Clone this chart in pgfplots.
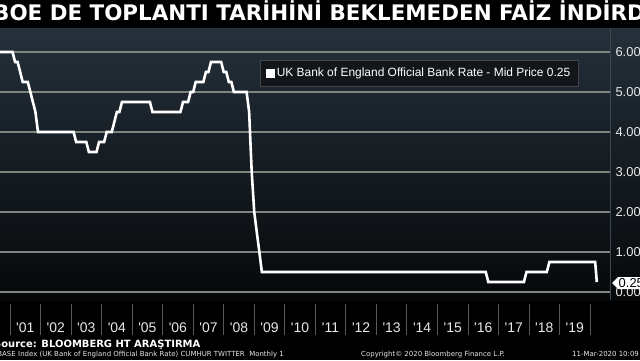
\documentclass[border=0pt]{standalone}
\usepackage{pgfplots}
\pgfplotsset{compat=1.18}
\usepackage{fontspec}
\setmainfont{Liberation Sans}
\newfontfamily\tickfont{Liberation Sans}
\newfontfamily\djv{DejaVu Sans}
\definecolor{bgtop}{RGB}{36,48,58}
\definecolor{bgbot}{RGB}{6,8,10}
\definecolor{gridc}{RGB}{128,133,130}
\definecolor{sepc}{RGB}{85,90,92}
\definecolor{legfill}{RGB}{18,22,26}
\definecolor{legdraw}{RGB}{62,68,74}
\definecolor{tickc}{RGB}{232,232,232}
\definecolor{axc}{RGB}{62,72,80}
\pgfplotstableread{
x y
2000.50 6.00
2001.083 6.00
2001.167 5.75
2001.250 5.75
2001.333 5.50
2001.417 5.25
2001.583 5.25
2001.667 5.00
2001.750 4.75
2001.833 4.50
2001.917 4.00
2003.083 4.00
2003.167 3.75
2003.500 3.75
2003.583 3.50
2003.833 3.50
2003.917 3.75
2004.083 3.75
2004.167 4.00
2004.333 4.00
2004.417 4.25
2004.500 4.50
2004.583 4.50
2004.667 4.75
2005.583 4.75
2005.667 4.50
2006.583 4.50
2006.667 4.75
2006.833 4.75
2006.917 5.00
2007.000 5.00
2007.083 5.25
2007.333 5.25
2007.417 5.50
2007.500 5.50
2007.583 5.75
2007.917 5.75
2008.000 5.50
2008.083 5.50
2008.167 5.25
2008.250 5.25
2008.333 5.00
2008.750 5.00
2008.833 4.50
2008.917 3.00
2009.000 2.00
2009.083 1.50
2009.167 1.00
2009.250 0.50
2016.583 0.50
2016.667 0.25
2017.833 0.25
2017.917 0.50
2018.583 0.50
2018.667 0.75
2020.167 0.75
2020.220 0.25
}\bankrate
\begin{document}
\begin{tikzpicture}[x=1bp,y=1bp]
\useasboundingbox (0,0) rectangle (640,360);
\clip (0,0) rectangle (640,360);
\fill[black] (0,0) rectangle (640,360);
\fill[top color=bgtop,bottom color=bgbot] (0,60) rectangle (640,332);
\draw[axc, line width=1bp] (610.5,60) -- (610.5,332);
\begin{axis}[
  at={(0bp,332bp)}, anchor=north west, scale only axis,
  width=610bp, height=272bp,
  xmin=2000.6725, xmax=2020.653, ymin=-0.2, ymax=6.6,
  axis line style={draw=none},
  ytick={0,1,2,3,4,5,6},
  ymajorgrids, major grid style={gridc, line width=1.5bp},
  yticklabel pos=right,
  /pgf/number format/assume math mode=true,
  yticklabel style={anchor=west, xshift=2bp, text=tickc, font=\tickfont\fontsize{13}{13}\selectfont,
    /pgf/number format/fixed, /pgf/number format/fixed zerofill, /pgf/number format/precision=2},
  xtick={2001.5,2002.5,2003.5,2004.5,2005.5,2006.5,2007.5,2008.5,2009.5,2010.5,2011.5,2012.5,2013.5,2014.5,2015.5,2016.5,2017.5,2018.5,2019.5},
  xticklabels={'01,'02,'03,'04,'05,'06,'07,'08,'09,'10,'11,'12,'13,'14,'15,'16,'17,'18,'19},
  xticklabel style={anchor=base, text=tickc, font=\tickfont\fontsize{14}{14}\selectfont, yshift=-33bp},
  major tick length=0, tick style={draw=none},
  legend style={at={(0.4262,0.8824)}, anchor=north west, fill=legfill, draw=legdraw,
    text=white, font=\tickfont\fontsize{12}{12}\selectfont, inner xsep=6bp, inner ysep=6bp},
  legend cell align=left,
  legend image code/.code={\fill[white] (0em,-0.32em) rectangle (0.6em,0.32em);},
]
\addplot[white, line width=2.6bp, line join=miter] table[x=x,y=y] {\bankrate};
\addlegendentry{UK Bank of England Official Bank Rate - Mid Price 0.25}
\end{axis}
\foreach \i in {0,...,19} \draw[sepc, line width=0.8bp] ({10+\i*30.53},56) -- ({10+\i*30.53},25);
\fill[white] (612,77) -- (618,83) -- (645,83) -- (645,71) -- (618,71) -- cycle;
\node[anchor=west, inner sep=0, text=black, font=\tickfont\fontsize{13}{13}\selectfont] at (618.5,77) {0.25};
\fill[black] (0,332) rectangle (640,360);
\node[anchor=base west, inner sep=0, text=white, font=\djv\bfseries\fontsize{21.5}{21.5}\selectfont] at (-7,340) {BOE DE TOPLANTI TARİHİNİ BEKLEMEDEN FAİZ İNDİRDİ};
\node[anchor=base west, inner sep=0, text=white, font=\djv\bfseries\fontsize{10}{10}\selectfont] at (-6,13) {Source: BLOOMBERG HT ARAŞTIRMA};
\node[anchor=base east, inner sep=0, text=tickc, font=\djv\fontsize{7}{7}\selectfont] at (16,3.5) {UKBRBASE};
\node[anchor=base west, inner sep=0, text=tickc, font=\djv\fontsize{7}{7}\selectfont] at (18,3.5) {Index (UK Bank of England Official Bank Rate) CUMHUR TWITTER\ \ Monthly 1};
\node[anchor=base west, inner sep=0, text=tickc, font=\djv\fontsize{7}{7}\selectfont] at (361,3.5) {Copyright© 2020 Bloomberg Finance L.P.};
\node[anchor=base west, inner sep=0, text=tickc, font=\djv\fontsize{7}{7}\selectfont] at (572,3.5) {11-Mar-2020 10:09};
\end{tikzpicture}
\end{document}
